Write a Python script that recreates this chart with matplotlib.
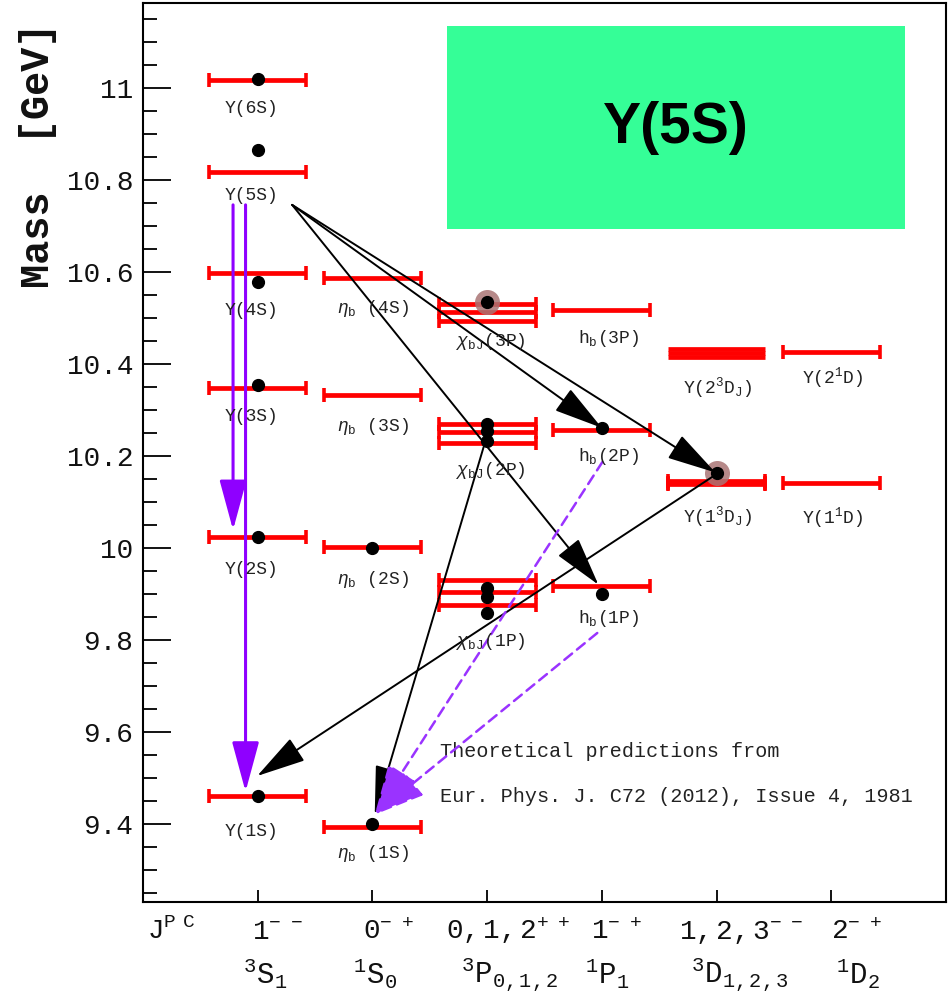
import numpy as np
import matplotlib
matplotlib.use("Agg")
import matplotlib.pyplot as plt
from matplotlib.patches import Rectangle

plt.rcParams['font.family'] = ['Liberation Mono', 'DejaVu Sans']
plt.rcParams['mathtext.fontset'] = 'custom'
plt.rcParams['mathtext.rm'] = 'Liberation Mono'
plt.rcParams['mathtext.it'] = 'Liberation Mono:italic'
plt.rcParams['mathtext.bf'] = 'Liberation Mono:bold'

# ---------------- data ----------------
# J^PC columns (x = 1..6)
jpc_labels = [r'$\mathrm{1^{-\ \ -}}$', r'$\mathrm{0^{-\ \ +}}$', r'$\mathrm{0,1,2^{+\ \ +}}$',
              r'$\mathrm{1^{-\ \ +}}$', r'$\mathrm{1,2,3^{-\ \ -}}$', r'$\mathrm{2^{-\ \ +}}$']
term_labels = [r'${}^{3}\mathrm{S}_{1}$', r'${}^{1}\mathrm{S}_{0}$', r'${}^{3}\mathrm{P}_{0,1,2}$',
               r'${}^{1}\mathrm{P}_{1}$', r'${}^{3}\mathrm{D}_{1,2,3}$', r'${}^{1}\mathrm{D}_{2}$']

# theoretical masses [GeV] (red levels)
ups_S_names = ['Υ(6S)', 'Υ(5S)', 'Υ(4S)', 'Υ(3S)', 'Υ(2S)', 'Υ(1S)']
ups_S_theory = [11.017, 10.817, 10.598, 10.348, 10.024, 9.461]
etab_names = [r'$\eta_{\mathrm{b}}$ (4S)', r'$\eta_{\mathrm{b}}$ (3S)',
              r'$\eta_{\mathrm{b}}$ (2S)', r'$\eta_{\mathrm{b}}$ (1S)']
etab_theory = [10.587, 10.333, 10.002, 9.393]
chib_names = [r'$\chi_{\mathrm{bJ}}$(3P)', r'$\chi_{\mathrm{bJ}}$(2P)', r'$\chi_{\mathrm{bJ}}$(1P)']
chib_theory = [[10.530, 10.513, 10.494],
               [10.270, 10.253, 10.228],
               [9.930, 9.904, 9.876]]
hb_names = [r'h$_{\mathrm{b}}$(3P)', r'h$_{\mathrm{b}}$(2P)', r'h$_{\mathrm{b}}$(1P)']
hb_theory = [10.517, 10.257, 9.917]
ups_3D_names = [r'Υ(2$^{3}$D$_{\mathrm{J}}$)', r'Υ(1$^{3}$D$_{\mathrm{J}}$)']
ups_3D_theory = [[10.416, 10.424, 10.432], [10.138, 10.141, 10.145]]
ups_1D_names = [r'Υ(2$^{1}$D)', r'Υ(1$^{1}$D)']
ups_1D_theory = [10.425, 10.141]

# measured masses [GeV] (black points)
ups_S_exp = [11.019, 10.865, 10.579, 10.355, 10.023, 9.460]
etab_exp = [9.999, 9.399]            # eta_b(2S), eta_b(1S)
chib_exp = [[10.534], [10.269, 10.255, 10.232], [9.912, 9.893, 9.859]]
hb_exp = [10.260, 9.899]             # h_b(2P), h_b(1P)
ups_1D_exp = [10.164]                # Y(1^3D_J)
highlighted = [(3, 10.534), (5, 10.164)]

# transitions: (from (column, mass), to (column, mass), kind)
transitions = [
    ((1, 10.865), (4, 10.260), 'black'),
    ((1, 10.865), (4, 9.899), 'black'),
    ((1, 10.865), (5, 10.164), 'black'),
    ((3, 10.232), (2, 9.399), 'black'),
    ((5, 10.164), (1, 9.460), 'black'),
    ((1, 10.865), (1, 10.023), 'violet'),
    ((1, 10.865), (1, 9.460), 'violet'),
    ((4, 10.260), (2, 9.399), 'violet_dashed'),
    ((4, 9.899), (2, 9.399), 'violet_dashed'),
]
# small endpoint shifts (column units, GeV) so arrows start/stop beside the markers
transition_shifts = [
    ((0.30, -0.119), (0.0, 0.001)),
    ((0.30, -0.119), (-0.03, 0.021)),
    ((0.30, -0.119), (-0.01, 0.0)),
    ((-0.03, -0.012), (0.02, 0.021)),
    ((-0.01, -0.005), (-0.005, 0.044)),
    ((-0.215, -0.119), (-0.215, 0.016)),
    ((-0.106, -0.119), (-0.106, 0.010)),
    ((0.005, -0.073), (0.02, 0.021)),
    ((-0.04, -0.084), (0.02, 0.021)),
]

# ---------------- figure ----------------
W, H = 949, 999
fig = plt.figure(figsize=(W / 100, H / 100), dpi=100)
ax = fig.add_axes([143 / W, 1 - 902 / H, 803 / W, 899 / H])
ax.set_xlim(0, 7)
ax.set_ylim(9.23, 11.185)

RED = '#ff0000'
HALF = 0.423


def draw_levels(x, masses, caps=True):
    ax.errorbar([x] * len(masses), masses, xerr=HALF, fmt='none', ecolor=RED,
                elinewidth=3.4, capsize=5 if caps else 0, capthick=2.6, zorder=2)


def label(text, x, y, dx, dy):
    ax.annotate(text, xy=(x, y), xytext=(dx, -dy), textcoords='offset pixels',
                ha='center', va='center', fontsize=13, color='#222222', zorder=6)


# 3S1
draw_levels(1, ups_S_theory)
for name, m, dy in zip(ups_S_names, ups_S_theory, [28, 23, 38, 29, 33, 36]):
    label(name, 1, m, -6, dy)
# 1S0
draw_levels(2, etab_theory)
for name, m, dy in zip(etab_names, etab_theory, [31, 32, 33, 26]):
    label(name, 2, m, 0, dy)
# 3PJ
for name, ms, dy in zip(chib_names, chib_theory, [21, 27, 37]):
    draw_levels(3, ms)
    label(name, 3, min(ms), 4, dy)
# 1P1
draw_levels(4, hb_theory)
for name, m, dy in zip(hb_names, hb_theory, [28, 27, 32]):
    label(name, 4, m, 7, dy)
# 3DJ
draw_levels(5, ups_3D_theory[0], caps=False)
draw_levels(5, ups_3D_theory[1])
for name, ms, dy in zip(ups_3D_names, ups_3D_theory, [35, 34]):
    label(name, 5, float(np.mean(ms)), 1, dy)
# 1D2
draw_levels(6, ups_1D_theory)
for name, m, dy in zip(ups_1D_names, ups_1D_theory, [25, 35]):
    label(name, 6, m, 1, dy)

# highlighted states
hx, hy = zip(*highlighted)
ax.plot(hx, hy, 'o', ms=18, color='#a97474', alpha=0.85, mec='none', zorder=4)

# measured points
dot = dict(marker='o', ls='none', color='black', ms=8.5, zorder=7)
ax.plot([1] * len(ups_S_exp), ups_S_exp, **dot)
ax.plot([2] * len(etab_exp), etab_exp, **dot)
for ms in chib_exp:
    ax.plot([3] * len(ms), ms, **dot)
ax.plot([4] * len(hb_exp), hb_exp, **dot)
ax.plot([5] * len(ups_1D_exp), ups_1D_exp, **dot)

# transitions
styles = {
    'black': dict(color='black', lw=1.4, ls='-', hw=0.42, hl=1.55),
    'violet': dict(color='#8f00ff', lw=2.2, ls='-', hw=0.42, hl=1.55),
    'violet_dashed': dict(color='#9a33ff', lw=1.8, ls=(0, (4, 2.5)), hw=0.5, hl=1.6),
}
for (src, tgt, kind), (s_sh, t_sh) in zip(transitions, transition_shifts):
    st = styles[kind]
    x0, y0 = src[0] + s_sh[0], src[1] + s_sh[1]
    x1, y1 = tgt[0] + t_sh[0], tgt[1] + t_sh[1]
    ax.annotate('', xy=(x1, y1), xytext=(x0, y0),
                arrowprops=dict(arrowstyle=f'-|>,head_length={st["hl"]},head_width={st["hw"]}',
                                color=st['color'], lw=st['lw'], ls=st['ls'],
                                shrinkA=0, shrinkB=0, mutation_scale=20),
                zorder=5)

# reference note
ax.text(0.370, 0.1669, 'Theoretical predictions from', transform=ax.transAxes,
        fontsize=14.5, ha='left', va='center', color='#222222')
ax.text(0.370, 0.1168, 'Eur. Phys. J. C72 (2012), Issue 4, 1981', transform=ax.transAxes,
        fontsize=14.5, ha='left', va='center', color='#222222')

# highlighted-state box
ax.add_patch(Rectangle((0.3786, 0.7486), 0.5704, 0.2258, transform=ax.transAxes,
                       facecolor='#35fe97', edgecolor='none', zorder=8))
ax.text(0.6638, 0.861, 'Υ(5S)', transform=ax.transAxes, fontsize=41,
        fontweight='bold', family='Liberation Sans', ha='center', va='center', zorder=9)

# axes styling
for sp in ax.spines.values():
    sp.set_linewidth(1.5)
yt = [9.4, 9.6, 9.8, 10.0, 10.2, 10.4, 10.6, 10.8, 11.0]
ax.set_yticks(yt)
ax.set_yticklabels(['%g' % v for v in yt])
ax.set_yticks(np.round(np.arange(9.25, 11.2, 0.05), 2), minor=True)
ax.tick_params(axis='y', which='major', direction='in', length=20, width=1.3,
               labelsize=20, pad=7, labelcolor='#111111')
ax.tick_params(axis='y', which='minor', direction='in', length=10, width=1.3)
ax.set_xticks(range(1, 7))
ax.set_xticklabels([])
ax.tick_params(axis='x', which='major', direction='in', length=9, width=1.3)
ax.tick_params(axis='x', which='minor', bottom=False)

# quantum-number rows under the axis
xt = ax.get_xaxis_transform()
row1_y = (902 - 939) / 899
row2_y = (902 - 983) / 899
row1_dx = [-6, -9, -41, -11, -38, 0]
row2_dx = [-15, -19, -26, -17, -26, 5]
px = 803 / 7
for i in range(6):
    ax.text(i + 1 + row1_dx[i] / px, row1_y, jpc_labels[i], transform=xt,
            fontsize=20, ha='left', va='baseline', color='#111111')
    ax.text(i + 1 + row2_dx[i] / px, row2_y, term_labels[i], transform=xt,
            fontsize=21, ha='left', va='baseline', color='#111111')
ax.text(4 / px, row1_y, r'$\mathrm{J^{P\;\;C}}$', transform=xt, fontsize=20,
        ha='left', va='baseline', color='#111111')

fig.text(38 / W, 1 - 155 / H, 'Mass  [GeV]', rotation=90, fontsize=29,
         fontweight='bold', ha='center', va='center', color='#111111')

fig.savefig('out.png', dpi=100)
